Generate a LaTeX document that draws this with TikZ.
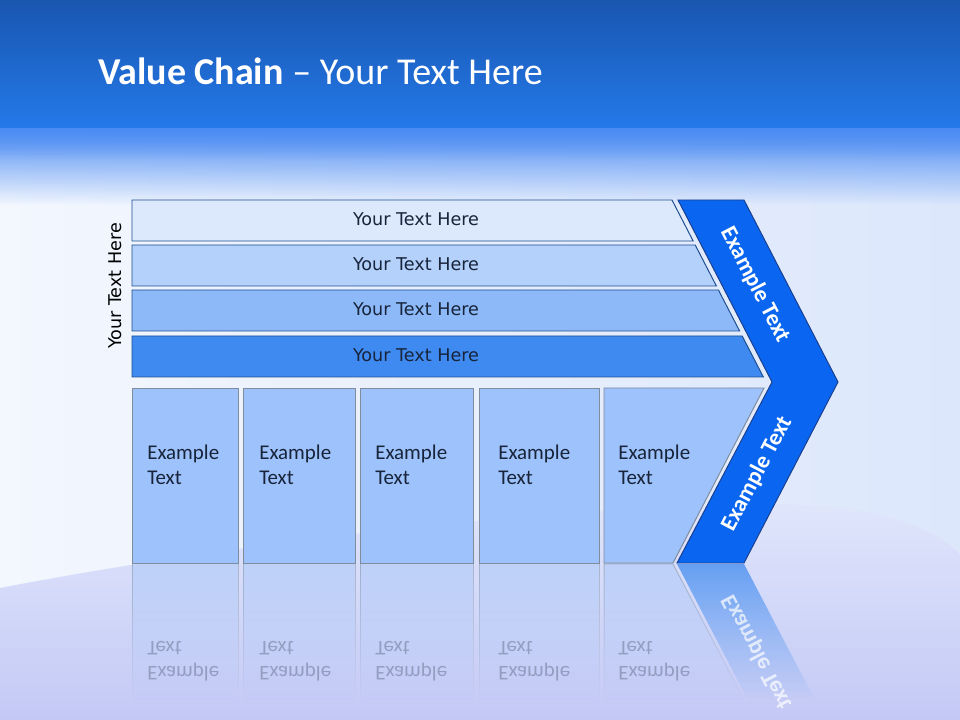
\documentclass[tikz,border=0pt]{standalone}
\usepackage{fontspec}
\setmainfont{Carlito}
\newfontfamily\barfont{DejaVu Sans}
\usetikzlibrary{positioning,fadings}

\definecolor{hdtop}{HTML}{1956B0}
\definecolor{hdbot}{HTML}{2479E9}
\definecolor{glow}{HTML}{4A8BF3}
\definecolor{bodyl}{HTML}{F3F7FE}
\definecolor{bodyr}{HTML}{DCE7FC}
\definecolor{wavetop}{HTML}{E0E6FB}
\definecolor{wavebot}{HTML}{C3C9F5}
\definecolor{barA}{HTML}{DCE9FD}
\definecolor{barB}{HTML}{B4D1FB}
\definecolor{barC}{HTML}{8DB9F8}
\definecolor{barD}{HTML}{3F8AF0}
\definecolor{barline}{HTML}{1D4E91}
\definecolor{boxfill}{HTML}{9EC2FB}
\definecolor{boxline}{HTML}{7F8C9C}
\definecolor{chevfill}{HTML}{0A66F0}
\definecolor{chevline}{HTML}{1A3F8F}
\definecolor{txtdark}{HTML}{17243A}

\tikzset{bartxt/.style={font=\barfont\fontsize{12.5}{15}\selectfont, text=txtdark, inner sep=0pt}}
\tikzset{boxtxt/.style={font=\fontsize{14.9}{17.8}\selectfont, text=txtdark, align=left, anchor=north west, inner sep=0pt}}
\tikzset{chevtxt/.style={font=\bfseries\fontsize{16.5}{19}\selectfont, text=white, inner sep=0pt}}
\tikzset{barshape/.style={draw=barline, line width=0.7pt}}
\tikzset{boxshape/.style={draw=boxline, fill=boxfill, line width=0.7pt}}
\tikzset{reflbox/.style={draw=boxline, fill=boxfill, line width=0.7pt, fill opacity=0.45, draw opacity=0.5, path fading=south}}

\begin{document}
\begin{tikzpicture}[x=0.025cm, y=-0.025cm]
  \useasboundingbox (0,0) rectangle (960,720);
  % background
  \shade[left color=bodyl, right color=bodyr] (0,128) rectangle (960,720);
  \fill[glow, path fading=south] (0,128) rectangle (960,205);
  \fill[glow, path fading=south, opacity=0.6] (0,128) rectangle (960,160);
  \shade[top color=hdtop, bottom color=hdbot] (0,0) rectangle (960,128);
  \shade[top color=wavetop, bottom color=wavebot]
    (0,588) .. controls (250,540) and (600,500) .. (800,505)
    .. controls (880,507) and (940,530) .. (960,555)
    -- (960,720) -- (0,720) -- cycle;

  \node[anchor=base west, text=white, font=\fontsize{27}{31}\selectfont, inner sep=0pt]
    (title) at (98,85) {\textbf{Value Chain} -- Your Text Here};

  % bars
  \foreach \t/\col [count=\i] in {200/barA, 245/barB, 290/barC, 336/barD} {
    \path[barshape, fill=\col] (132,\t) -- ({672+0.516*(\t-200)},\t)
      -- ({672+0.516*(\t+41-200)},\t+41) -- (132,\t+41) -- cycle;
    \node[bartxt] (bar\i) at (416,\t+19.5) {Your Text Here};
  }
  \node[bartxt, text=black, rotate=90] (side) at (115,286) {Your Text Here};

  % boxes
  \foreach \l/\r/\x [count=\i] in {132/238/147, 243/355/259, 360/473/375, 479/599/498} {
    \path[boxshape] (\l,388) rectangle (\r,563);
    \node[boxtxt] (ex\i) at (\x,445) {Example\\Text};
  }
  \path[boxshape] (604,388) -- (764,388) -- (673,563) -- (604,563) -- cycle;
  \node[boxtxt] (ex5) at (618,445) {Example\\Text};

  % chevron
  \path[draw=chevline, fill=chevfill, line width=0.7pt] (678,200) -- (744,200) -- (838,382)
    -- (744,563) -- (677,563) -- (772,382) -- cycle;
  \node[chevtxt, rotate=-62.7] (chevup) at (755,285) {Example Text};
  \node[chevtxt, rotate=62.3] (chevlo) at (757,474) {Example Text};

  % reflection
  \foreach \l/\r in {132/238, 243/355, 360/473, 479/599}
    \path[reflbox] (\l,564) rectangle (\r,700);
  \path[reflbox] (604,564) -- (673,564) -- (744,700) -- (604,700) -- cycle;
  \path[fill=barD, path fading=south, fill opacity=0.75] (677,564) -- (744,564)
    -- (815,700) -- (748,700) -- cycle;
  \begin{scope}[shift={(0,1126)}, yscale=-1]
    \foreach \x [count=\i] in {147, 259, 375, 498, 618}
      \node[boxtxt, transform shape, text opacity=0.28] (rex\i) at (\x,445) {Example\\Text};
    \node[chevtxt, rotate=62.3, transform shape, text opacity=0.7] (rchev) at (757,474) {Example Text};
  \end{scope}
\end{tikzpicture}
\end{document}
